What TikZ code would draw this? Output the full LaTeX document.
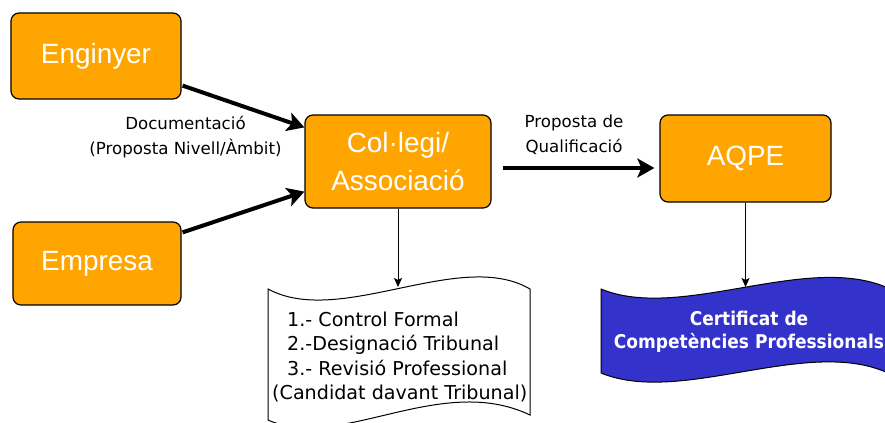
\documentclass[tikz,border=0pt]{standalone}
\usepackage{fontspec}
\usetikzlibrary{arrows.meta}
\newfontfamily\boxfont{Liberation Sans}
\newfontfamily\labfont{DejaVu Sans}
\newfontfamily\banfont[FakeStretch=0.9]{DejaVu Sans}
\definecolor{boxorange}{RGB}{255,165,0}
\definecolor{bannerblue}{RGB}{51,51,204}
\begin{document}
\begin{tikzpicture}[x=1bp,y=-1bp,
  box/.style={draw=black, line width=1.2bp, fill=boxorange, rounded corners=8bp,
    text=white, font=\boxfont\fontsize{28}{38}\selectfont, inner sep=0pt, align=center},
  lab/.style={font=\labfont\fontsize{16.7}{25}\selectfont, align=center, inner sep=0pt},
  doctext/.style={font=\labfont\fontsize{19.2}{24.5}\selectfont, align=left, inner sep=0pt},
  bantext/.style={font=\banfont\bfseries\fontsize{19}{23}\selectfont, text=white, align=center, inner sep=0pt},
  thick arrow/.style={line width=4bp, -{Stealth[length=17bp,width=19bp,inset=4bp]}},
  thin arrow/.style={line width=0.9bp, -{Stealth[length=9bp,width=8bp,inset=2bp]}}]
\useasboundingbox (0,0) rectangle (885,422);
% boxes
\node[box, minimum width=170bp, minimum height=86bp] (eng) at (96,56) {Enginyer};
\node[box, minimum width=168bp, minimum height=83bp] (emp) at (97,263.5) {Empresa};
\node[box, minimum width=186bp, minimum height=93bp] (col) at (398,161.5) {Col·legi/\\Associació};
\node[box, minimum width=171bp, minimum height=87bp] (aqpe) at (745.5,158.5) {AQPE};
% document shape
\draw[line width=1bp, fill=white] (268,289) .. controls (340,328) and (460,248) .. (530,289)
  -- (530,415) .. controls (440,372) and (340,452) .. (268,420) -- cycle;
\coordinate (docTop) at (398,287);
\node[doctext, anchor=west] (doc) at (272,357) {\hspace*{15bp}1.- Control Formal\\\hspace*{15bp}2.-Designació Tribunal\\\hspace*{15bp}3.- Revisió Professional\\(Candidat davant Tribunal)};
% banner shape
\draw[line width=1bp, fill=bannerblue] (601,289) .. controls (681,322) and (807,252) .. (888,288)
  -- (888,373) .. controls (807,336) and (681,406) .. (601,373) -- cycle;
\coordinate (banTop) at (745.5,287);
\node[bantext] (ban) at (749,331.5) {Certificat de\\Competències Professionals};
% labels
\node[lab] (l1) at (185.5,137.5) {Documentació\\(Proposta Nivell/Àmbit)};
\node[lab] (l2) at (574,134.5) {Proposta de\\Qualificació};
% arrows
\draw[thick arrow] ([shift={(1,-14)}]eng.south east) -- ([shift={(0,13)}]col.north west);
\draw[thick arrow] ([shift={(1,11)}]emp.north east) -- ([shift={(0,-17)}]col.south west);
\draw[thick arrow] ([shift={(11,6.5)}]col.east) -- ([shift={(-5,9.5)}]aqpe.west);
\draw[thin arrow] (col.south) -- (docTop);
\draw[thin arrow] (aqpe.south) -- (banTop);
\end{tikzpicture}
\end{document}
